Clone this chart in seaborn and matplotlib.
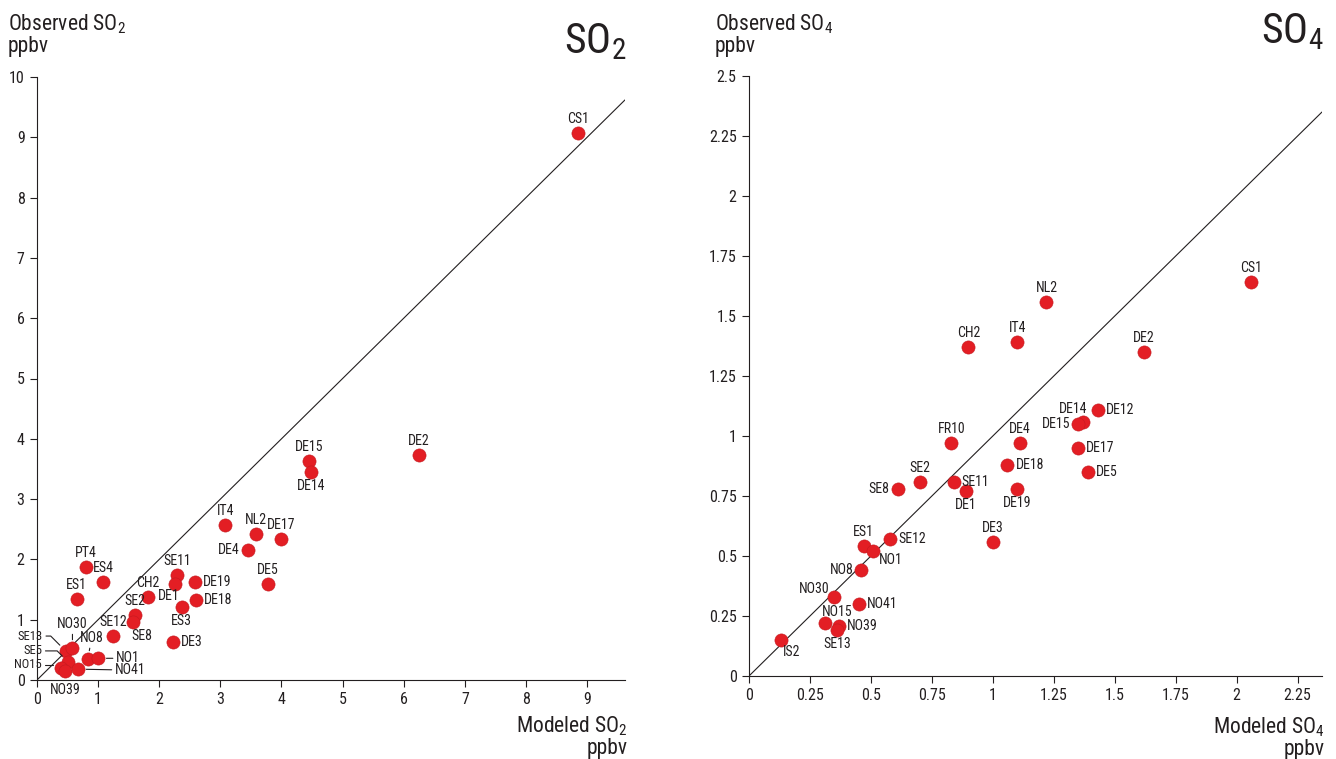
import numpy as np
import pandas as pd
import matplotlib
matplotlib.use("Agg")
import matplotlib.pyplot as plt
import seaborn as sns
from matplotlib import font_manager as fm

# ---------------- data ----------------
so2_sites = ["CS1", "DE2", "DE15", "DE14", "IT4", "NL2", "DE17", "DE4", "DE5",
             "SE11", "DE1", "DE19", "DE18", "ES3", "DE3", "CH2", "PT4", "ES4",
             "ES1", "SE2", "SE8", "SE12", "SE13", "NO30", "NO8", "NO1", "SE5",
             "NO15", "NO39", "NO41"]
so2_modeled = [8.85, 6.25, 4.45, 4.48, 3.08, 3.58, 3.99, 3.45, 3.78,
               2.29, 2.26, 2.59, 2.60, 2.37, 2.23, 1.82, 0.80, 1.08,
               0.65, 1.60, 1.57, 1.25, 0.47, 0.58, 0.83, 1.00, 0.51,
               0.39, 0.46, 0.67]
so2_observed = [9.07, 3.73, 3.63, 3.45, 2.57, 2.42, 2.34, 2.16, 1.59,
                1.74, 1.59, 1.63, 1.33, 1.21, 0.63, 1.38, 1.87, 1.62,
                1.34, 1.08, 0.96, 0.73, 0.48, 0.53, 0.35, 0.36, 0.30,
                0.20, 0.15, 0.18]

so4_sites = ["CS1", "DE2", "NL2", "IT4", "CH2", "DE12", "DE14", "DE15", "DE17",
             "DE5", "FR10", "DE4", "DE18", "SE2", "SE8", "SE11", "DE1", "DE19",
             "DE3", "ES1", "SE12", "NO1", "NO8", "NO30", "NO41", "NO15", "NO39",
             "SE13", "IS2"]
so4_modeled = [2.06, 1.62, 1.22, 1.10, 0.90, 1.43, 1.37, 1.35, 1.35,
               1.39, 0.83, 1.11, 1.06, 0.70, 0.61, 0.84, 0.89, 1.10,
               1.00, 0.47, 0.58, 0.51, 0.46, 0.35, 0.45, 0.31, 0.37,
               0.36, 0.13]
so4_observed = [1.64, 1.35, 1.56, 1.39, 1.37, 1.11, 1.06, 1.05, 0.95,
                0.85, 0.97, 0.97, 0.88, 0.81, 0.78, 0.81, 0.77, 0.78,
                0.56, 0.54, 0.57, 0.52, 0.44, 0.33, 0.30, 0.22, 0.21,
                0.19, 0.15]

so2_xticks = [0, 1, 2, 3, 4, 5, 6, 7, 8, 9]
so2_yticks = [0, 1, 2, 3, 4, 5, 6, 7, 8, 9, 10]
so4_ticks = [0, 0.25, 0.5, 0.75, 1, 1.25, 1.5, 1.75, 2, 2.25, 2.5]
so4_ticklabels = ["0", "0.25", "0.5", "0.75", "1", "1.25", "1.5", "1.75", "2", "2.25", "2.5"]

# ---------------- style ----------------
sns.set_theme(style="ticks")
names = {f.name for f in fm.fontManager.ttflist}
family = "DejaVu Sans"
for cand in ["Liberation Sans Narrow", "Roboto Condensed", "DejaVu Sans Condensed"]:
    if cand in names:
        family = cand
        break
plt.rcParams["font.family"] = [family, "DejaVu Sans"]
plt.rcParams["mathtext.fontset"] = "custom"
plt.rcParams["mathtext.rm"] = family
INK = "#231f20"
RED = "#e31e24"

W, H = 1336, 759
fig = plt.figure(figsize=(W / 100, H / 100), dpi=100)


def fx(x):
    return x / W


def fy(y):
    return 1 - y / H


ax1 = fig.add_axes([fx(37), fy(680), (625 - 37) / W, (680 - 77) / H])
ax2 = fig.add_axes([fx(749), fy(676), (1322 - 749) / W, (676 - 76) / H])

df2 = pd.DataFrame({"site": so2_sites, "modeled": so2_modeled, "observed": so2_observed})
df4 = pd.DataFrame({"site": so4_sites, "modeled": so4_modeled, "observed": so4_observed})

A = (0, 7, "center", "bottom")
B = (0, -7, "center", "top")
R = (8, 0, "left", "center")
L = (-8, 0, "right", "center")

so2_lab = {
    "CS1": A, "DE2": A, "DE15": A, "DE14": B, "IT4": A, "NL2": A, "DE17": A,
    "DE4": L, "DE5": A, "SE11": A, "DE1": (-6, -12, "center", "center"),
    "DE19": R, "DE18": R, "ES3": B, "DE3": R, "CH2": A, "PT4": A, "ES4": A,
    "ES1": A, "SE2": A, "SE8": (9, -14, "center", "center"), "SE12": A,
    "NO39": (0, -19, "center", "center"),
}
# dx, dy, ha, connection style, font size
so2_lead = {
    "SE13": (-23, 15, "right", "angle,angleA=0,angleB=-45,rad=0", 9),
    "SE5": (-26, 11, "right", "angle,angleA=0,angleB=-45,rad=0", 9),
    "NO15": (-19, 3, "right", "angle,angleA=0,angleB=-45,rad=0", 9),
    "NO30": (0, 24, "center", "arc3", 10),
    "NO8": (4, 21, "center", "arc3", 10),
    "NO1": (18, 0, "left", "arc3", 10),
    "NO41": (37, -1, "left", "arc3", 10),
}

so4_lab = {
    "CS1": A, "DE2": A, "NL2": A, "IT4": A, "CH2": A, "DE12": R,
    "DE14": (-10, 13, "center", "center"), "DE15": L, "DE17": R, "DE5": R,
    "FR10": A, "DE4": A, "DE18": R, "SE2": A, "SE8": L, "SE11": R, "DE1": B,
    "DE19": B, "DE3": A, "ES1": A, "SE12": R, "NO1": (17, -9, "center", "center"),
    "NO8": L, "NO30": (-20, 8, "center", "center"), "NO41": R,
    "NO15": (13, 11, "center", "center"), "NO39": R, "SE13": B,
    "IS2": (11, -12, "center", "center"),
}

LABEL_FS = 10


def draw_panel(ax, df, xmax, ymax, labels, leads=None):
    ax.plot([0, xmax], [0, xmax], color=INK, lw=0.8, zorder=1)
    sns.scatterplot(data=df, x="modeled", y="observed", ax=ax, s=90, color=RED,
                    edgecolor="#c41a20", linewidth=0.4, zorder=3, legend=False)
    for name, mx, oy in zip(df["site"], df["modeled"], df["observed"]):
        if name in labels:
            dx, dy, ha, va = labels[name]
            ax.annotate(name, (mx, oy), xytext=(dx, dy), textcoords="offset pixels",
                        ha=ha, va=va, fontsize=LABEL_FS, color=INK, zorder=4)
        elif leads and name in leads:
            dx, dy, ha, cs, fs = leads[name]
            ax.annotate(name, (mx, oy), xytext=(dx, dy), textcoords="offset pixels",
                        ha=ha, va="center", fontsize=fs, color=INK, zorder=4,
                        arrowprops=dict(arrowstyle="-", color=INK, lw=0.8,
                                        shrinkA=0, shrinkB=6, connectionstyle=cs))
    ax.set_xlim(0, xmax)
    ax.set_ylim(0, ymax)
    ax.set_xlabel("")
    ax.set_ylabel("")
    for s in ["top", "right"]:
        ax.spines[s].set_visible(False)
    for s in ["left", "bottom"]:
        ax.spines[s].set_color(INK)
        ax.spines[s].set_linewidth(0.8)
    ax.tick_params(direction="out", length=5, width=0.8, color=INK,
                   labelsize=11.5, labelcolor=INK, pad=4)
    ax.set_facecolor("none")


draw_panel(ax1, df2, 9.62, 10, so2_lab, so2_lead)
ax1.set_xticks(so2_xticks)
ax1.set_xticklabels([str(t) for t in so2_xticks])
ax1.set_yticks(so2_yticks)
ax1.set_yticklabels([str(t) for t in so2_yticks])

draw_panel(ax2, df4, 2.35, 2.5, so4_lab)
ax2.set_xticks(so4_ticks[:-1])
ax2.set_xticklabels(so4_ticklabels[:-1])
ax2.set_yticks(so4_ticks)
ax2.set_yticklabels(so4_ticklabels)

# ---------------- texts ----------------
AX_FS = 15.5
fig.text(fx(8), fy(12), "Observed SO$\\mathregular{_2}$\nppbv", ha="left", va="top",
         fontsize=AX_FS, color=INK, linespacing=1.05)
fig.text(fx(715), fy(12), "Observed SO$\\mathregular{_4}$\nppbv", ha="left", va="top",
         multialignment="left", fontsize=AX_FS, color=INK, linespacing=1.05)
fig.text(fx(628), fy(714), "Modeled SO$\\mathregular{_2}$\nppbv", ha="right", va="top",
         multialignment="right", fontsize=AX_FS, color=INK, linespacing=1.05)
fig.text(fx(1325), fy(715), "Modeled SO$\\mathregular{_4}$\nppbv", ha="right", va="top",
         multialignment="right", fontsize=AX_FS, color=INK, linespacing=1.05)
fig.text(fx(626), fy(53), "SO$\\mathregular{_2}$", ha="right", va="baseline",
         fontsize=30, color=INK)
fig.text(fx(1323), fy(43), "SO$\\mathregular{_4}$", ha="right", va="baseline",
         fontsize=30, color=INK)

fig.savefig("out.png", dpi=100, facecolor="white")
